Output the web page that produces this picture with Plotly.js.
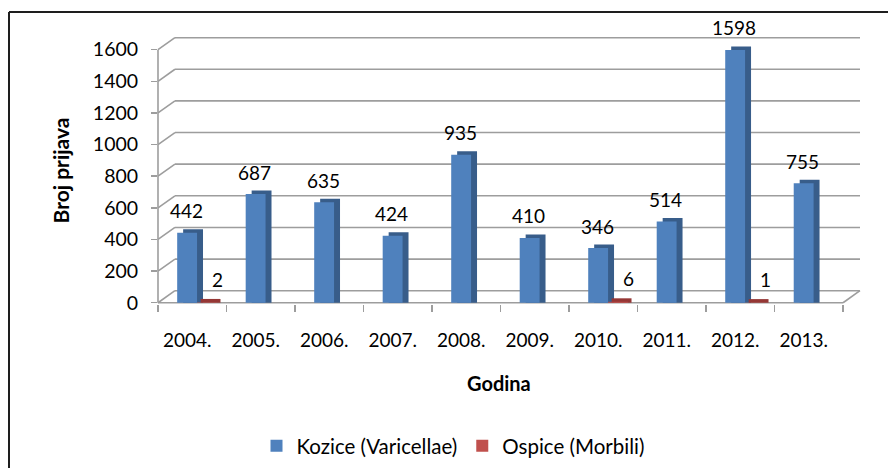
<!DOCTYPE html>
<html>
<head>
<meta charset="utf-8">
<script src="https://cdn.plot.ly/plotly-3.0.1.min.js"></script>
<style>html,body{margin:0;padding:0;background:#fff;}#chart{width:888px;height:468px;}</style>
</head>
<body>
<div id="chart"></div>
<script>
// ---- data ----
const years = ['2004.', '2005.', '2006.', '2007.', '2008.', '2009.', '2010.', '2011.', '2012.', '2013.'];
const kozice = [442, 687, 635, 424, 935, 410, 346, 514, 1598, 755];
const ospice = [2, null, null, null, null, null, 6, null, 1, null];
const yTicks = [0, 200, 400, 600, 800, 1000, 1200, 1400, 1600];
const seriesNames = ['Kozice (Varicellae)', 'Ospice (Morbili)'];

// ---- layout geometry ----
const W = 888, H = 468;
const L = 158, R = 28, T = 37, B = 164;
const plotW = W - L - R, plotH = H - T - B;
const DX = 0.2475;        // back-wall depth, in category units
const DYW = 76;           // back-wall depth, in value units
const DYB = 22;           // bar depth, in value units
const BW = 0.29, BLUE_OFF = -0.22, RED_OFF = BLUE_OFF + BW, SIDE_DX = 0.087;
const xMin = -0.5, xMax = 9.5 + DX;
const px2paperX = px => (px - L) / plotW;
const py2paperY = py => (H - B - py) / plotH;
const cat2paper = c => (c - xMin) / (xMax - xMin);
const FONT = 'Lato, "Open Sans", sans-serif';
const GRID = '#9d9d9d';

const shadow = arr => arr.map(v => v == null ? null : v + DYB);

const traces = [
  {type: 'bar', x: years, y: shadow(kozice), base: 0, offset: BLUE_OFF + SIDE_DX, width: BW,
   marker: {color: '#385d8a'}, showlegend: false, hoverinfo: 'skip'},
  {type: 'bar', x: years, y: shadow(ospice), base: 0, offset: RED_OFF + SIDE_DX * 0.6, width: BW,
   marker: {color: '#953735'}, showlegend: false, hoverinfo: 'skip'},
  {type: 'bar', x: years, y: kozice, offset: BLUE_OFF, width: BW, name: seriesNames[0],
   marker: {color: '#4f81bd'}},
  {type: 'bar', x: years, y: ospice, offset: RED_OFF, width: BW, name: seriesNames[1],
   marker: {color: '#c0504d'}}
];

const shapes = [];
yTicks.forEach(v => {
  shapes.push({type: 'line', layer: 'below', xref: 'x', yref: 'y',
    x0: xMin + DX, x1: xMax, y0: v + DYW, y1: v + DYW, line: {color: GRID, width: 1.6}});
  shapes.push({type: 'line', layer: 'below', xref: 'paper', yref: 'y',
    x0: 0, x1: cat2paper(xMin + DX), y0: v, y1: v + DYW, line: {color: GRID, width: 1.6}});
});
// front axes
shapes.push({type: 'line', layer: 'below', xref: 'paper', yref: 'y', x0: 0, x1: 0,
  y0: 0, y1: yTicks[yTicks.length - 1], line: {color: GRID, width: 1.6}});
shapes.push({type: 'line', layer: 'below', xref: 'paper', yref: 'y', x0: 0, x1: cat2paper(years.length - 0.5),
  y0: 0, y1: 0, line: {color: GRID, width: 1.6}});
shapes.push({type: 'line', layer: 'below', xref: 'paper', yref: 'y', x0: cat2paper(years.length - 0.5), x1: cat2paper(xMax),
  y0: 0, y1: DYW, line: {color: GRID, width: 1.6}});
// chart border (top + left)
shapes.push({type: 'line', xref: 'paper', yref: 'paper', x0: px2paperX(9), x1: px2paperX(W + 5),
  y0: py2paperY(12), y1: py2paperY(12), line: {color: '#1e1e1e', width: 2}});
shapes.push({type: 'line', xref: 'paper', yref: 'paper', x0: px2paperX(9), x1: px2paperX(9),
  y0: py2paperY(12), y1: py2paperY(H + 5), line: {color: '#1e1e1e', width: 2}});

const labelFont = {family: FONT, size: 19, color: '#000'};
const annotations = [];
years.forEach((yr, i) => {
  if (kozice[i] != null) annotations.push({x: i, y: kozice[i], xref: 'x', yref: 'y', text: String(kozice[i]),
    showarrow: false, xanchor: 'center', yanchor: 'middle', xshift: -6, yshift: 22, font: labelFont});
  if (ospice[i] != null) annotations.push({x: i, y: ospice[i], xref: 'x', yref: 'y', text: String(ospice[i]),
    showarrow: false, xanchor: 'center', yanchor: 'middle', xshift: 25, yshift: 23, font: labelFont});
});
annotations.push({xref: 'paper', yref: 'paper', x: px2paperX(499), y: py2paperY(383), text: 'Godina',
  showarrow: false, xanchor: 'center', yanchor: 'middle',
  font: {family: FONT, size: 20, color: '#000', weight: 'bold'}});

const layout = {
  width: W, height: H,
  margin: {l: L, r: R, t: T, b: B, pad: 0, autoexpand: false},
  paper_bgcolor: '#fff', plot_bgcolor: 'rgba(0,0,0,0)',
  barmode: 'overlay',
  font: {family: FONT, size: 19, color: '#000'},
  xaxis: {type: 'category', categoryorder: 'array', categoryarray: years, range: [xMin, xMax],
    tickson: 'boundaries', ticks: 'outside', ticklen: 7, tickwidth: 1.5, tickcolor: GRID,
    showgrid: false, zeroline: false, showline: false, ticklabelshift: -5, ticklabelstandoff: 23,
    tickfont: {family: FONT, size: 19, color: '#000'}, automargin: false, fixedrange: true},
  yaxis: {range: [-8, 1680], tickvals: yTicks, ticktext: yTicks.map(String), ticks: 'outside', ticklen: 6,
    tickwidth: 1.5, tickcolor: GRID, showgrid: false, zeroline: false, showline: false,
    ticklabelstandoff: 9, tickfont: {family: FONT, size: 19.5, color: '#000'}, automargin: false,
    title: {text: 'Broj prijava', standoff: 17, font: {family: FONT, size: 21, color: '#000', weight: 'bold'}}},
  legend: {orientation: 'h', x: px2paperX(453), xanchor: 'center', y: py2paperY(446), yanchor: 'middle',
    font: {family: FONT, size: 20.5, color: '#000'}, itemwidth: 30, traceorder: 'normal', bgcolor: 'rgba(0,0,0,0)'},
  shapes: shapes,
  annotations: annotations,
  showlegend: true
};

Plotly.newPlot('chart', traces, layout, {displayModeBar: false, staticPlot: true});
</script>
</body>
</html>
